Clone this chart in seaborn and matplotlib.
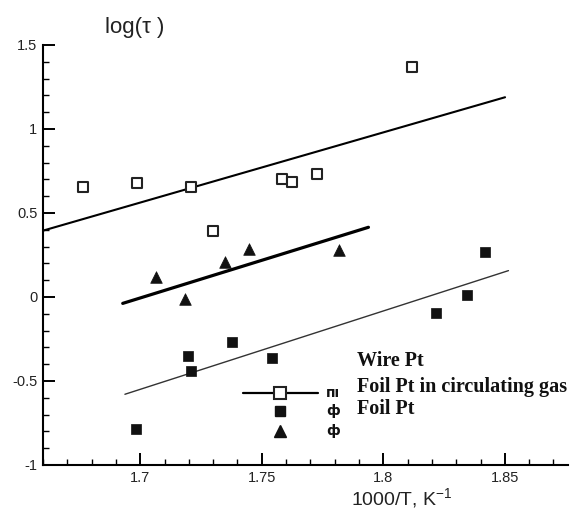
import matplotlib
matplotlib.use("Agg")
import matplotlib.pyplot as plt
import seaborn as sns
import pandas as pd
from matplotlib.ticker import MultipleLocator

# ---- data ----
wire_x = [1.6763, 1.6988, 1.7209, 1.7301, 1.7582, 1.7626, 1.7729, 1.8117]
wire_y = [0.656, 0.677, 0.656, 0.395, 0.701, 0.683, 0.732, 1.367]
circ_x = [1.6981, 1.7195, 1.7209, 1.7377, 1.7541, 1.8217, 1.8344, 1.8419]
circ_y = [-0.788, -0.349, -0.439, -0.266, -0.363, -0.093, 0.012, 0.268]
foil_x = [1.7065, 1.7184, 1.7350, 1.7449, 1.7817]
foil_y = [0.121, -0.012, 0.208, 0.288, 0.280]

wire_fit_x = [1.660, 1.8501]
wire_fit_y = [0.395, 1.189]
circ_fit_x = [1.6937, 1.8515]
circ_fit_y = [-0.579, 0.157]
foil_fit_x = [1.6928, 1.7939]
foil_fit_y = [-0.038, 0.415]

labels = ["Wire Pt", "Foil Pt in circulating gas", "Foil Pt"]
legend_glyphs = ["пı", "ф", "ф"]
x_ticks = [1.7, 1.75, 1.8, 1.85]
y_ticks = [-1, -0.5, 0, 0.5, 1, 1.5]

sns.set_style("ticks")
plt.rcParams['font.family'] = ['Liberation Sans', 'DejaVu Sans']

fig = plt.figure(figsize=(5.76, 5.19), dpi=100)
ax = fig.add_axes([43/576, 1-465/519, 525/576, 420/519])

wire = pd.DataFrame({"x": wire_x, "y": wire_y})
circ = pd.DataFrame({"x": circ_x, "y": circ_y})
foil = pd.DataFrame({"x": foil_x, "y": foil_y})

sns.lineplot(x=wire_fit_x, y=wire_fit_y, ax=ax, color="black", lw=1.5)
sns.lineplot(x=circ_fit_x, y=circ_fit_y, ax=ax, color="#333333", lw=1.0)
sns.lineplot(x=foil_fit_x, y=foil_fit_y, ax=ax, color="black", lw=2.3)

sns.scatterplot(data=wire, x="x", y="y", ax=ax, marker="s", s=62,
                facecolor="white", edgecolor="#222222", linewidth=1.5, zorder=5)
sns.scatterplot(data=circ, x="x", y="y", ax=ax, marker="s", s=45,
                color="#111111", edgecolor="#111111", linewidth=0.5, zorder=5)
sns.scatterplot(data=foil, x="x", y="y", ax=ax, marker="^", s=70,
                color="#111111", edgecolor="#111111", linewidth=0.5, zorder=5)

ax.set_xlim(1.66, 1.876)
ax.set_ylim(-1, 1.5)
ax.set_xticks(x_ticks)
ax.set_xticklabels([f"{v:g}" for v in x_ticks])
ax.set_yticks(y_ticks)
ax.set_yticklabels([f"{v:g}" for v in y_ticks])
ax.xaxis.set_minor_locator(MultipleLocator(0.01))
ax.yaxis.set_minor_locator(MultipleLocator(0.1))
ax.tick_params(which="major", direction="in", length=8.5, width=1.4,
               labelsize=10.5, labelcolor="#222222", color="black", pad=4)
ax.tick_params(which="minor", direction="in", length=4, width=1.0, color="black")
for side in ["top", "right"]:
    ax.spines[side].set_visible(False)
for side in ["left", "bottom"]:
    ax.spines[side].set_linewidth(1.5)
    ax.spines[side].set_color("black")
ax.set_xlabel("")
ax.set_ylabel("")

# axis titles
fig.text(135/576, 1-27/519, "log(τ )", ha="center", va="center", fontsize=16, color="#222222")
fig.text(402/576, 1-499/519, "1000/T, K$^{\\mathregular{-1}}$", ha="center", va="center",
         fontsize=14, color="#222222")

# legend-like block
def ax_pt(px, py):
    return ((px - 43) / 525, (465 - py) / 420)

(lx0, ly0) = ax_pt(242.7, 392.7)
(lx1, _) = ax_pt(318.3, 392.7)
(mx, _) = ax_pt(280, 392.7)
ax.plot([lx0, lx1], [ly0, ly0], transform=ax.transAxes, color="black", lw=1.6, clip_on=False)
ax.plot([mx], [ly0], transform=ax.transAxes, marker="s", ms=8, mfc="white", mec="#222222",
        mew=1.5, clip_on=False, zorder=6)
(_, ly1) = ax_pt(280, 411)
(_, ly2) = ax_pt(280, 430.7)
ax.plot([mx], [ly1], transform=ax.transAxes, marker="s", ms=6.8, color="#111111", clip_on=False)
ax.plot([mx], [ly2], transform=ax.transAxes, marker="^", ms=8.5, color="#111111", clip_on=False)

gx, _ = ax_pt(326, 0)
for g, yy in zip(legend_glyphs, [ly0, ly1, ly2]):
    ax.text(gx, yy, g, transform=ax.transAxes, ha="left", va="center", fontsize=10,
            family=["DejaVu Sans"], fontweight="bold", color="#111111")

tx, _ = ax_pt(357, 0)
for lab, py in zip(labels, [360.7, 386.7, 409.3]):
    _, ty = ax_pt(0, py)
    ax.text(tx, ty, lab, transform=ax.transAxes, ha="left", va="center", fontsize=14.5,
            family=["Liberation Serif"], fontweight="bold", color="#111111")

fig.savefig("out.png", dpi=100)
